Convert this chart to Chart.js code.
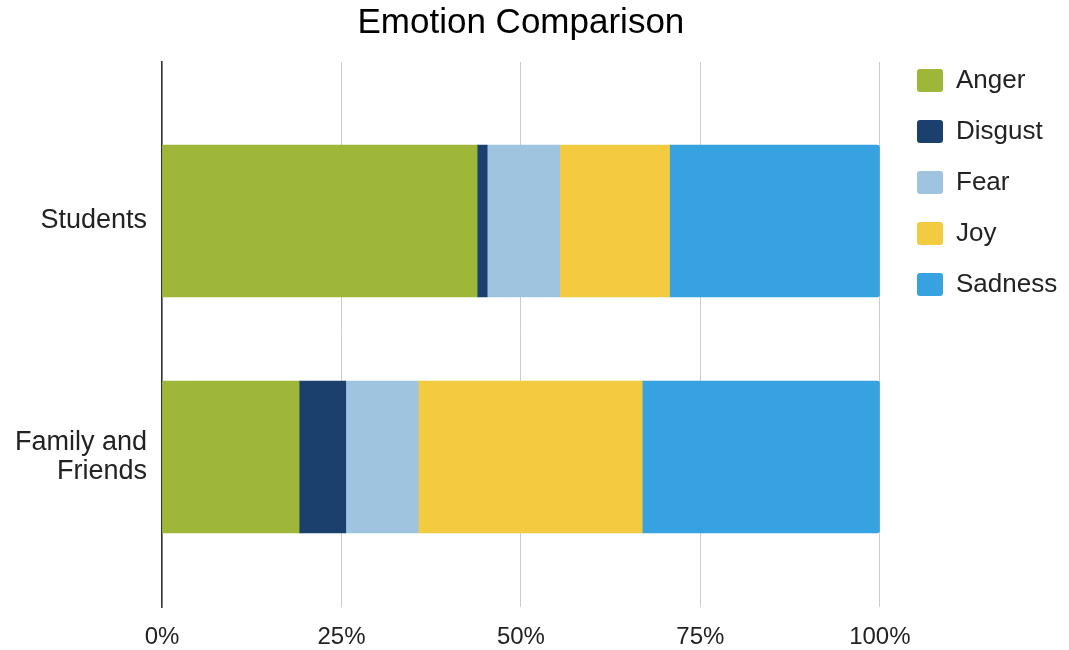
<!DOCTYPE html>
<html lang="en">
<head>
    <meta charset="UTF-8">
    <title>Emotion Comparison</title>
    <script src="https://cdn.jsdelivr.net/npm/chart.js"></script>
    <style>
        body { margin: 0; background: #fff; }
    </style>
</head>
<body>
    <canvas id="myChart" width="1069" height="650"></canvas>
    <script>
        // data (percent of each group)
        const categories = ['Students', 'Family and Friends'];
        const tickLabels = ['Students', ['Family and', 'Friends']];
        const emotions = ['Anger', 'Disgust', 'Fear', 'Joy', 'Sadness'];
        const anger = [43.9, 19.1];
        const disgust = [1.4, 6.5];
        const fear = [10.1, 10.1];
        const joy = [15.3, 31.2];
        const sadness = [29.3, 33.1];
        const xTicks = [0, 25, 50, 75, 100];

        const colors = ['#9fb738', '#1b406d', '#9fc4e0', '#f2cb40', '#36a2e0'];
        const seriesValues = [anger, disgust, fear, joy, sadness];
        const font = '"Liberation Sans", Arial, sans-serif';

        // put the legend where the reference has it
        const legendPlace = {
            id: 'legendPlace',
            afterLayout(chart) {
                const l = chart.legend;
                const pad = l.options.labels.padding;
                const dx = 917 - (l.left + pad);
                const dy = 67.5 - (l.top + pad);
                l.left += dx; l.right += dx;
                l.top += dy; l.bottom += dy;
            }
        };

        const datasets = emotions.map((name, k) => ({
            label: name,
            data: categories.map((c, i) => ({ y: i, x: seriesValues[k][i] })),
            backgroundColor: colors[k],
            borderWidth: 0,
            barThickness: 152,
            borderRadius: name === 'Sadness' ? 3 : 0
        }));

        const ctx = document.getElementById('myChart').getContext('2d');
        new Chart(ctx, {
            type: 'bar',
            data: { datasets: datasets },
            options: {
                indexAxis: 'y',
                responsive: false,
                animation: false,
                layout: { padding: { left: 0, right: 14, top: 0, bottom: -17 } },
                scales: {
                    x: {
                        type: 'linear',
                        stacked: true,
                        min: 0,
                        max: 100,
                        afterBuildTicks: (scale) => { scale.ticks = xTicks.map(v => ({ value: v })); },
                        ticks: {
                            callback: (v) => v + '%',
                            color: '#222',
                            padding: 18,
                            font: { family: font, size: 24, lineHeight: 1 }
                        },
                        grid: { color: '#cccccc', drawTicks: false, lineWidth: 1 },
                        border: { display: false }
                    },
                    y: {
                        type: 'linear',
                        stacked: true,
                        reverse: true,
                        offset: false,
                        min: -0.6735,
                        max: 1.6355,
                        afterBuildTicks: (scale) => { scale.ticks = categories.map((c, i) => ({ value: i })); },
                        afterFit: (scale) => { scale.width = 162; },
                        ticks: {
                            callback: (v) => tickLabels[v],
                            color: '#222',
                            padding: 15,
                            font: { family: font, size: 27, lineHeight: 1.05 }
                        },
                        grid: { display: false, drawTicks: false, offset: false },
                        border: { display: true, color: '#333', width: 1.5 }
                    }
                },
                plugins: {
                    title: {
                        display: true,
                        text: 'Emotion Comparison',
                        fullSize: false,
                        color: '#000',
                        font: { family: font, size: 35, weight: 'normal' },
                        padding: { top: 2, bottom: 18 }
                    },
                    legend: {
                        position: 'right',
                        align: 'start',
                        labels: {
                            boxWidth: 26,
                            boxHeight: 23,
                            padding: 25,
                            useBorderRadius: true,
                            borderRadius: 3,
                            color: '#222',
                            font: { family: font, size: 26 }
                        }
                    },
                    tooltip: { enabled: false }
                }
            },
            plugins: [legendPlace]
        });
    </script>
</body>
</html>
